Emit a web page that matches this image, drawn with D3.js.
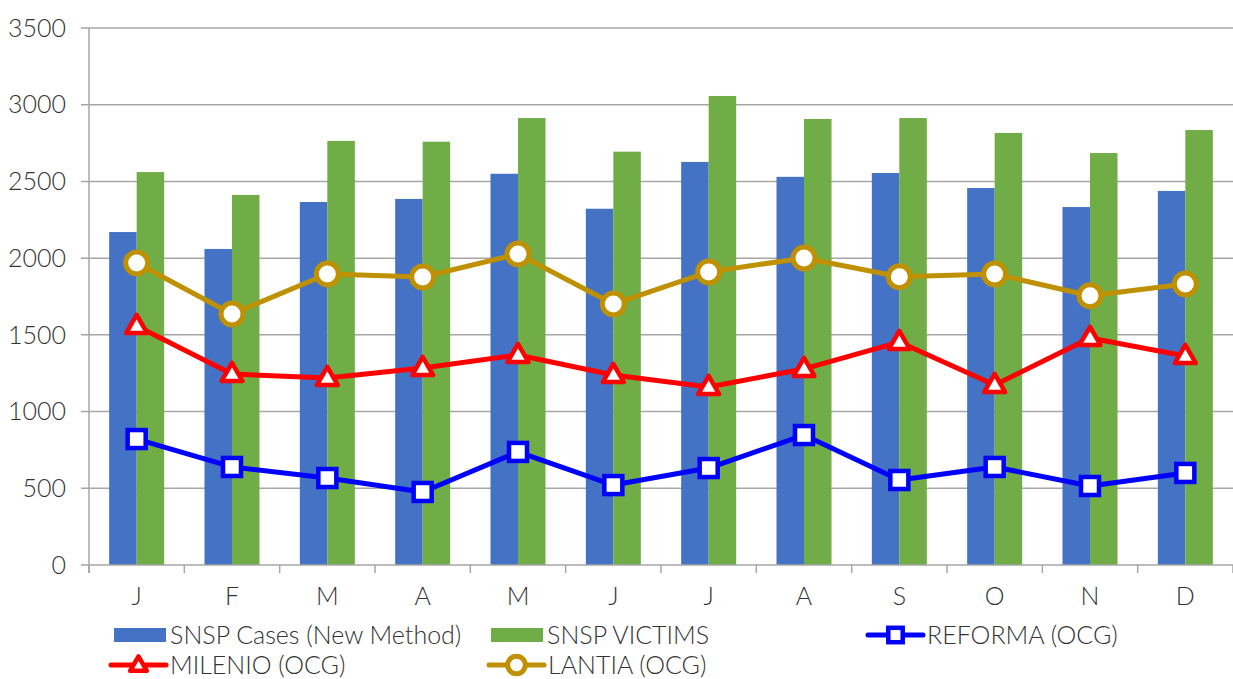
<!DOCTYPE html>
<html>
<head>
<meta charset="utf-8">
<script src="https://cdn.jsdelivr.net/npm/d3@7"></script>
<style>
  body { margin: 0; background: #fff; }
  text { font-family: Lato, "Open Sans", sans-serif; font-weight: 300; fill: #333; }
</style>
</head>
<body>
<script>
// dati
var months = ["J","F","M","A","M","J","J","A","S","O","N","D"];
var snspCases   = [2170, 2060, 2366, 2386, 2550, 2322, 2627, 2530, 2555, 2457, 2333, 2438];
var snspVictims = [2561, 2412, 2764, 2759, 2913, 2694, 3057, 2907, 2913, 2816, 2685, 2835];
var reforma = [821, 639, 567, 476, 737, 521, 632, 847, 554, 639, 515, 600];
var milenio = [1558, 1245, 1219, 1284, 1369, 1238, 1160, 1278, 1453, 1173, 1480, 1362];
var lantia  = [1968, 1636, 1897, 1877, 2027, 1701, 1910, 2001, 1879, 1897, 1755, 1831];
var yTicks = [0, 500, 1000, 1500, 2000, 2500, 3000, 3500];

var W = 1233, H = 679;
var mLeft = 89, mRight = 1233, mTop = 28, mBottom = 565;

var svg = d3.select("body").append("svg")
    .attr("width", W).attr("height", H);

var x = d3.scaleBand().domain(d3.range(12)).range([mLeft, mRight]);
var y = d3.scaleLinear().domain([0, 3500]).range([mBottom, mTop]);
var barW = 27.5;

// griglia
svg.append("g").selectAll("line").data(yTicks.slice(1)).join("line")
    .attr("x1", mLeft - 8).attr("x2", mRight)
    .attr("y1", d => y(d)).attr("y2", d => y(d))
    .attr("stroke", "#a6a6a6").attr("stroke-width", 1.5);

// etichette asse y
svg.append("g").selectAll("text").data(yTicks).join("text")
    .attr("x", 66).attr("y", d => y(d))
    .attr("text-anchor", "end").attr("dy", "0.35em")
    .attr("font-size", 25)
    .text(d => d);

// barre
svg.append("g").selectAll("rect").data(snspCases).join("rect")
    .attr("x", (d, i) => x(i) + x.bandwidth() / 2 - barW)
    .attr("y", d => y(d)).attr("width", barW)
    .attr("height", d => y(0) - y(d))
    .attr("fill", "#4472C4");
svg.append("g").selectAll("rect").data(snspVictims).join("rect")
    .attr("x", (d, i) => x(i) + x.bandwidth() / 2)
    .attr("y", d => y(d)).attr("width", barW)
    .attr("height", d => y(0) - y(d))
    .attr("fill", "#70AD47");

// assi
svg.append("line").attr("x1", mLeft).attr("x2", mLeft)
    .attr("y1", mTop).attr("y2", mBottom + 8)
    .attr("stroke", "#a6a6a6").attr("stroke-width", 1.5);
svg.append("line").attr("x1", mLeft - 8).attr("x2", mRight)
    .attr("y1", mBottom).attr("y2", mBottom)
    .attr("stroke", "#a6a6a6").attr("stroke-width", 1.5);
svg.append("g").selectAll("line").data(d3.range(13)).join("line")
    .attr("x1", d => mLeft + d * x.step()).attr("x2", d => mLeft + d * x.step())
    .attr("y1", mBottom).attr("y2", mBottom + 8)
    .attr("stroke", "#a6a6a6").attr("stroke-width", 1.5);
svg.append("g").selectAll("text").data(months).join("text")
    .attr("x", (d, i) => x(i) + x.bandwidth() / 2)
    .attr("y", 596).attr("dy", "0.35em")
    .attr("text-anchor", "middle").attr("font-size", 25)
    .text(d => d);

var cx = (d, i) => x(i) + x.bandwidth() / 2;
var line = d3.line().x(cx).y(d => y(d));

function drawSeries(data, color, shape) {
    var g = svg.append("g");
    g.append("path").datum(data).attr("d", line)
        .attr("fill", "none").attr("stroke", color)
        .attr("stroke-width", 5).attr("stroke-linejoin", "round");
    drawMarkers(g, data.map((d, i) => [cx(d, i), y(d)]), color, shape, 1);
}

function drawMarkers(g, pts, color, shape, k) {
    pts.forEach(function(p) {
        if (shape === "square") {
            g.append("rect").attr("x", p[0] - 9 * k).attr("y", p[1] - 9 * k)
                .attr("width", 18 * k).attr("height", 18 * k)
                .attr("fill", "#fff").attr("stroke", color).attr("stroke-width", 4.5);
        } else if (shape === "circle") {
            g.append("circle").attr("cx", p[0]).attr("cy", p[1]).attr("r", 11 * k)
                .attr("fill", "#fff").attr("stroke", color).attr("stroke-width", 5);
        } else {
            g.append("path")
                .attr("d", d3.symbol().type(d3.symbolTriangle).size(190 * k * k)())
                .attr("transform", "translate(" + p[0] + "," + (p[1] + 1) + ")")
                .attr("fill", "#fff").attr("stroke", color).attr("stroke-width", 4.5)
                .attr("stroke-linejoin", "round");
        }
    });
}

drawSeries(lantia, "#BF9000", "circle");
drawSeries(milenio, "#FF0000", "triangle");
drawSeries(reforma, "#0000FF", "square");

// legenda
var lg = svg.append("g");
function legendBar(x0, yy, color, label) {
    lg.append("rect").attr("x", x0).attr("y", yy - 7).attr("width", 52).attr("height", 14).attr("fill", color);
    lg.append("text").attr("x", x0 + 56).attr("y", yy).attr("dy", "0.35em")
        .attr("font-size", 25).text(label);
}
function legendLine(x0, yy, color, shape, label) {
    lg.append("line").attr("x1", x0).attr("x2", x0 + 55).attr("y1", yy).attr("y2", yy)
        .attr("stroke", color).attr("stroke-width", 5).attr("stroke-linecap", "round");
    drawMarkers(lg, [[x0 + 27.5, yy]], color, shape, 0.8);
    lg.append("text").attr("x", x0 + 59).attr("y", yy).attr("dy", "0.35em")
        .attr("font-size", 25).text(label);
}
legendBar(114, 635, "#4472C4", "SNSP Cases (New Method)");
legendBar(491, 635, "#70AD47", "SNSP VICTIMS");
legendLine(868, 635, "#0000FF", "square", "REFORMA (OCG)");
legendLine(111, 665, "#FF0000", "triangle", "MILENIO (OCG)");
legendLine(489, 665, "#BF9000", "circle", "LANTIA (OCG)");
</script>
</body>
</html>
